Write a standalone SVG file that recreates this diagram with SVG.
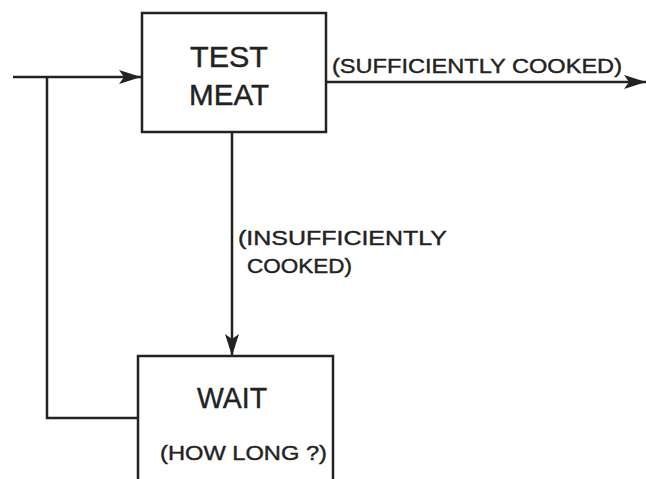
<svg xmlns="http://www.w3.org/2000/svg" width="646" height="479" viewBox="0 0 646 479">
<style>
.box{fill:none;stroke:#222;stroke-width:2.5}
.ln{fill:none;stroke:#222;stroke-width:2.5}
text{font-family:"Liberation Sans","DejaVu Sans",sans-serif;fill:#222;stroke:#222;stroke-width:0.4}
.big{font-size:30px}
.sm{font-size:21px}
</style>
<defs>
<marker id="ah" viewBox="0 0 22 14" refX="22" refY="7" markerWidth="22" markerHeight="14" markerUnits="userSpaceOnUse" orient="auto">
<path d="M0,0 L22,7 L0,14 L5,7 Z" fill="#222"/>
</marker>
</defs>
<rect width="646" height="479" fill="#fff"/>
<g id="connectors">
<path class="ln" d="M13,77 H141" marker-end="url(#ah)"/>
<path class="ln" d="M138,418 H47 V77"/>
<path class="ln" d="M326,82 H646" marker-end="url(#ah)"/>
<path class="ln" d="M232,132 V356" marker-end="url(#ah)"/>
<text class="sm" x="332" y="73" textLength="290" lengthAdjust="spacingAndGlyphs">(SUFFICIENTLY  COOKED)</text>
<text class="sm" x="238" y="245" textLength="209" lengthAdjust="spacingAndGlyphs">(INSUFFICIENTLY</text>
<text class="sm" x="247" y="273" textLength="105" lengthAdjust="spacingAndGlyphs">COOKED)</text>
</g>
<g id="test-meat">
<rect class="box" x="142" y="13" width="184" height="119"/>
<text class="big" x="190" y="67" textLength="78" lengthAdjust="spacingAndGlyphs">TEST</text>
<text class="big" x="189" y="105" textLength="80" lengthAdjust="spacingAndGlyphs">MEAT</text>
</g>
<g id="wait">
<path class="box" d="M138,481 V356 H333 V481"/>
<text class="big" x="197" y="408" textLength="70" lengthAdjust="spacingAndGlyphs">WAIT</text>
<text class="sm" x="160" y="460" textLength="167" lengthAdjust="spacingAndGlyphs">(HOW LONG ?)</text>
</g>
</svg>
